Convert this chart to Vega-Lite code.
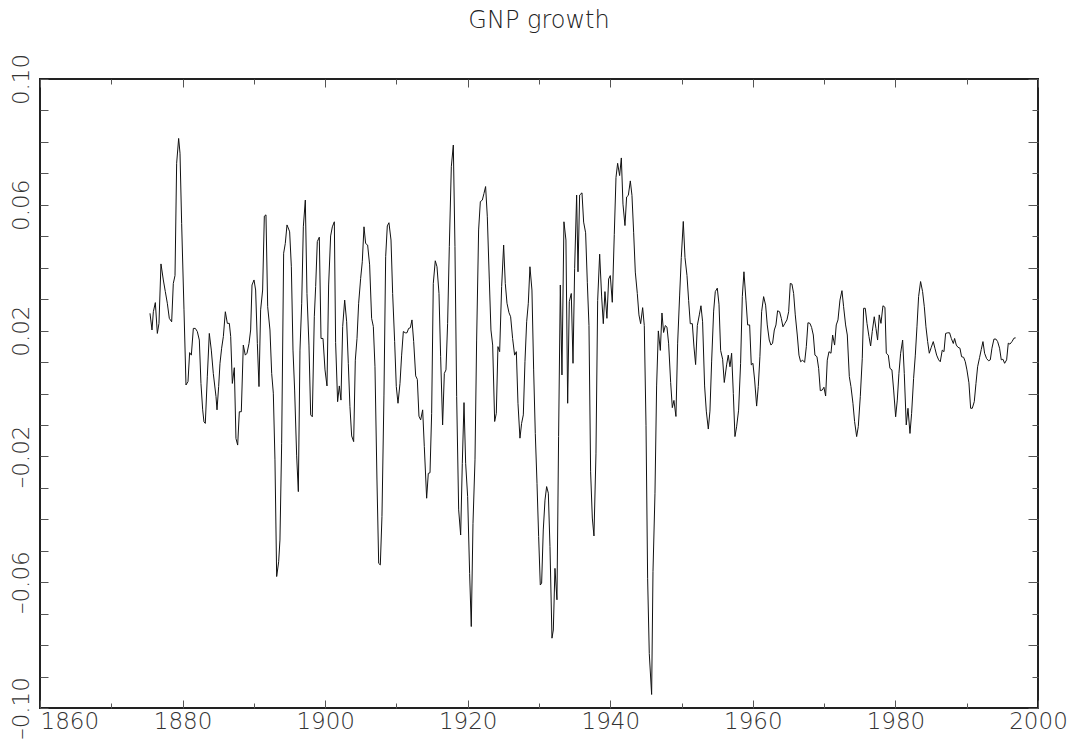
{
 "$schema": "https://vega.github.io/schema/vega-lite/v6.json",
 "width": 998, "height": 629,
 "autosize": {"type": "none"},
 "padding": {"left": 40, "top": 79, "right": 38, "bottom": 39},
 "background": "white",
 "title": {"text": "GNP growth", "fontSize": 24, "font": "DejaVu Sans", "fontWeight": 200, "color": "#222", "anchor": "middle", "offset": 1, "baseline": "alphabetic"},
 "data": {"values": [
{"t":1875.43,"g":0.0255},{"t":1875.71,"g":0.0202},{"t":1875.90,"g":0.0260},{"t":1876.18,"g":0.0289},{"t":1876.46,"g":0.0191},{"t":1876.69,"g":0.0223},{"t":1876.97,"g":0.0412},{"t":1877.30,"g":0.0361},{"t":1877.58,"g":0.0324},{"t":1877.86,"g":0.0287},{"t":1878.14,"g":0.0239},{"t":1878.47,"g":0.0228},{"t":1878.70,"g":0.0350},{"t":1878.94,"g":0.0375},{"t":1879.17,"g":0.0732},{"t":1879.45,"g":0.0811},{"t":1879.64,"g":0.0764},{"t":1879.87,"g":0.0541},{"t":1880.20,"g":0.0266},{"t":1880.48,"g":0.0027},{"t":1880.76,"g":0.0038},{"t":1880.99,"g":0.0130},{"t":1881.23,"g":0.0122},{"t":1881.51,"g":0.0207},{"t":1881.79,"g":0.0207},{"t":1882.07,"g":0.0197},{"t":1882.35,"g":0.0170},{"t":1882.58,"g":0.0032},{"t":1882.82,"g":-0.0052},{"t":1883.00,"g":-0.0090},{"t":1883.19,"g":-0.0095},{"t":1883.47,"g":0.0053},{"t":1883.75,"g":0.0191},{"t":1884.03,"g":0.0138},{"t":1884.31,"g":0.0064},{"t":1884.69,"g":-0.0010},{"t":1884.83,"g":-0.0052},{"t":1885.06,"g":0.0022},{"t":1885.25,"g":0.0096},{"t":1885.48,"g":0.0144},{"t":1885.72,"g":0.0181},{"t":1886.00,"g":0.0260},{"t":1886.28,"g":0.0223},{"t":1886.56,"g":0.0223},{"t":1886.75,"g":0.0181},{"t":1886.98,"g":0.0032},{"t":1887.26,"g":0.0082},{"t":1887.49,"g":-0.0143},{"t":1887.73,"g":-0.0164},{"t":1887.96,"g":-0.0058},{"t":1888.24,"g":-0.0058},{"t":1888.52,"g":0.0154},{"t":1888.80,"g":0.0122},{"t":1889.04,"g":0.0128},{"t":1889.32,"g":0.0159},{"t":1889.55,"g":0.0202},{"t":1889.74,"g":0.0345},{"t":1890.02,"g":0.0361},{"t":1890.25,"g":0.0329},{"t":1890.49,"g":0.0159},{"t":1890.72,"g":0.0022},{"t":1890.95,"g":0.0266},{"t":1891.23,"g":0.0329},{"t":1891.47,"g":0.0564},{"t":1891.70,"g":0.0568},{"t":1891.94,"g":0.0276},{"t":1892.26,"g":0.0202},{"t":1892.50,"g":0.0064},{"t":1892.73,"g":0.0001},{"t":1892.96,"g":-0.0211},{"t":1893.20,"g":-0.0582},{"t":1893.48,"g":-0.0535},{"t":1893.66,"g":-0.0466},{"t":1893.90,"g":-0.0158},{"t":1894.18,"g":0.0446},{"t":1894.41,"g":0.0477},{"t":1894.65,"g":0.0536},{"t":1894.93,"g":0.0520},
{"t":1895.02,"g":0.0514},{"t":1895.26,"g":0.0403},{"t":1895.49,"g":0.0138},{"t":1895.72,"g":0.0011},{"t":1896.00,"g":-0.0196},{"t":1896.24,"g":-0.0312},{"t":1896.47,"g":0.0138},{"t":1896.71,"g":0.0287},{"t":1896.94,"g":0.0530},{"t":1897.22,"g":0.0615},{"t":1897.45,"g":0.0318},{"t":1897.73,"g":0.0154},{"t":1897.97,"g":-0.0068},{"t":1898.20,"g":-0.0074},{"t":1898.48,"g":0.0244},{"t":1898.67,"g":0.0340},{"t":1898.90,"g":0.0483},{"t":1899.18,"g":0.0497},{"t":1899.42,"g":0.0175},{"t":1899.70,"g":0.0175},{"t":1899.98,"g":0.0075},{"t":1900.26,"g":0.0024},{"t":1900.49,"g":0.0345},{"t":1900.77,"g":0.0501},{"t":1901.01,"g":0.0530},{"t":1901.29,"g":0.0546},{"t":1901.47,"g":0.0162},{"t":1901.75,"g":-0.0026},{"t":1901.99,"g":0.0024},{"t":1902.22,"g":-0.0021},{"t":1902.46,"g":0.0213},{"t":1902.74,"g":0.0297},{"t":1903.02,"g":0.0228},{"t":1903.25,"g":0.0096},{"t":1903.48,"g":-0.0042},{"t":1903.72,"g":-0.0135},{"t":1904.00,"g":-0.0153},{"t":1904.23,"g":0.0106},{"t":1904.47,"g":0.0175},{"t":1904.70,"g":0.0287},{"t":1904.98,"g":0.0366},{"t":1905.21,"g":0.0419},{"t":1905.45,"g":0.0530},{"t":1905.68,"g":0.0477},{"t":1905.96,"g":0.0472},{"t":1906.24,"g":0.0409},{"t":1906.52,"g":0.0239},{"t":1906.76,"g":0.0213},{"t":1906.99,"g":0.0085},{"t":1907.27,"g":-0.0275},{"t":1907.51,"g":-0.0540},{"t":1907.74,"g":-0.0545},{"t":1907.97,"g":-0.0391},{"t":1908.25,"g":-0.0005},{"t":1908.49,"g":0.0435},{"t":1908.72,"g":0.0533},{"t":1908.95,"g":0.0543},{"t":1909.24,"g":0.0488},{"t":1909.47,"g":0.0318},{"t":1909.75,"g":0.0165},{"t":1909.98,"g":0.0022},{"t":1910.22,"g":-0.0031},{"t":1910.50,"g":0.0032},{"t":1910.73,"g":0.0122},{"t":1910.97,"g":0.0197},{"t":1911.25,"g":0.0193},{"t":1911.48,"g":0.0193},{"t":1911.71,"g":0.0207},{"t":1911.95,"g":0.0209},{"t":1912.18,"g":0.0234},{"t":1912.42,"g":0.0165},{"t":1912.70,"g":0.0056},{"t":1912.93,"g":0.0045},{"t":1913.16,"g":-0.0072},{"t":1913.40,"g":-0.0084},{"t":1913.68,"g":-0.0052},{"t":1913.91,"g":-0.0169},{"t":1914.24,"g":-0.0333},{"t":1914.47,"g":-0.0254},{"t":1914.71,"g":-0.0252},{"t":1914.94,"g":-0.0063},{"t":1915.17,"g":0.0350},
{"t":1915.45,"g":0.0422},{"t":1915.69,"g":0.0403},{"t":1915.97,"g":0.0318},{"t":1916.20,"g":0.0117},{"t":1916.48,"g":-0.0100},{"t":1916.72,"g":0.0064},{"t":1916.95,"g":0.0075},{"t":1917.18,"g":0.0223},{"t":1917.42,"g":0.0467},{"t":1917.70,"g":0.0721},{"t":1917.98,"g":0.0790},{"t":1918.21,"g":0.0467},{"t":1918.45,"g":-0.0010},{"t":1918.73,"g":-0.0370},{"t":1919.01,"g":-0.0450},{"t":1919.24,"g":-0.0222},{"t":1919.48,"g":-0.0029},{"t":1919.71,"g":-0.0222},{"t":1919.99,"g":-0.0328},{"t":1920.27,"g":-0.0572},{"t":1920.50,"g":-0.0741},{"t":1920.74,"g":-0.0413},{"t":1921.02,"g":-0.0211},{"t":1921.25,"g":0.0170},{"t":1921.53,"g":0.0520},{"t":1921.77,"g":0.0610},{"t":1922.05,"g":0.0615},{"t":1922.28,"g":0.0636},{"t":1922.51,"g":0.0658},{"t":1922.75,"g":0.0562},{"t":1923.03,"g":0.0361},{"t":1923.26,"g":0.0202},{"t":1923.50,"g":0.0154},{"t":1923.78,"g":-0.0089},{"t":1924.01,"g":-0.0063},{"t":1924.24,"g":0.0149},{"t":1924.48,"g":0.0133},{"t":1924.76,"g":0.0340},{"t":1925.04,"g":0.0472},{"t":1925.27,"g":0.0350},{"t":1925.51,"g":0.0287},{"t":1925.79,"g":0.0257},{"t":1926.02,"g":0.0244},{"t":1926.30,"g":0.0175},{"t":1926.58,"g":0.0122},{"t":1926.82,"g":0.0133},{"t":1927.05,"g":-0.0031},{"t":1927.33,"g":-0.0142},{"t":1927.56,"g":-0.0095},{"t":1927.80,"g":-0.0068},{"t":1928.03,"g":0.0101},{"t":1928.27,"g":0.0228},{"t":1928.50,"g":0.0287},{"t":1928.73,"g":0.0403},{"t":1929.01,"g":0.0329},{"t":1929.25,"g":0.0075},{"t":1929.48,"g":-0.0127},{"t":1929.72,"g":-0.0286},{"t":1929.95,"g":-0.0455},{"t":1930.18,"g":-0.0609},{"t":1930.37,"g":-0.0603},{"t":1930.60,"g":-0.0434},{"t":1930.84,"g":-0.0339},{"t":1931.07,"g":-0.0296},{"t":1931.31,"g":-0.0317},{"t":1931.54,"g":-0.0487},{"t":1931.82,"g":-0.0778},{"t":1932.01,"g":-0.0752},{"t":1932.24,"g":-0.0556},{"t":1932.52,"g":-0.0656},{"t":1932.75,"g":-0.0137},{"t":1932.99,"g":0.0345},{"t":1933.22,"g":0.0059},{"t":1933.50,"g":0.0546},{"t":1933.78,"g":0.0488},{"t":1934.02,"g":-0.0031},{"t":1934.25,"g":0.0292},{"t":1934.53,"g":0.0318},{"t":1934.77,"g":0.0096},{"t":1935.00,"g":0.0398},{"t":1935.28,"g":0.0631},{"t":1935.47,"g":0.0387},{"t":1935.70,"g":0.0631},
{"t":1936.03,"g":0.0638},{"t":1936.26,"g":0.0545},{"t":1936.54,"g":0.0511},{"t":1936.78,"g":0.0352},{"t":1937.01,"g":0.0216},{"t":1937.24,"g":-0.0249},{"t":1937.48,"g":-0.0396},{"t":1937.71,"g":-0.0453},{"t":1937.99,"g":-0.0192},{"t":1938.23,"g":0.0296},{"t":1938.51,"g":0.0443},{"t":1938.79,"g":0.0307},{"t":1939.02,"g":0.0222},{"t":1939.25,"g":0.0324},{"t":1939.53,"g":0.0239},{"t":1939.77,"g":0.0364},{"t":1940.00,"g":0.0375},{"t":1940.28,"g":0.0290},{"t":1940.56,"g":0.0505},{"t":1940.80,"g":0.0687},{"t":1941.03,"g":0.0732},{"t":1941.31,"g":0.0693},{"t":1941.55,"g":0.0749},{"t":1941.78,"g":0.0602},{"t":1942.06,"g":0.0534},{"t":1942.29,"g":0.0625},{"t":1942.53,"g":0.0630},{"t":1942.81,"g":0.0676},{"t":1943.04,"g":0.0630},{"t":1943.28,"g":0.0511},{"t":1943.51,"g":0.0386},{"t":1943.79,"g":0.0318},{"t":1944.02,"g":0.0250},{"t":1944.26,"g":0.0222},{"t":1944.54,"g":0.0273},{"t":1944.77,"g":0.0216},{"t":1945.01,"g":-0.0101},{"t":1945.24,"g":-0.0589},{"t":1945.47,"g":-0.0827},{"t":1945.80,"g":-0.0957},{"t":1945.99,"g":-0.0566},{"t":1946.27,"g":-0.0317},{"t":1946.50,"g":0.0024},{"t":1946.74,"g":0.0199},{"t":1947.02,"g":0.0137},{"t":1947.25,"g":0.0256},{"t":1947.48,"g":0.0194},{"t":1947.72,"g":0.0216},{"t":1947.95,"g":0.0211},{"t":1948.18,"g":0.0160},{"t":1948.47,"g":0.0035},{"t":1948.70,"g":-0.0045},{"t":1948.93,"g":-0.0022},{"t":1949.21,"g":-0.0073},{"t":1949.45,"g":0.0160},{"t":1949.73,"g":0.0313},{"t":1949.96,"g":0.0432},{"t":1950.24,"g":0.0547},{"t":1950.48,"g":0.0432},{"t":1950.76,"g":0.0375},{"t":1950.99,"g":0.0296},{"t":1951.22,"g":0.0222},{"t":1951.51,"g":0.0222},{"t":1951.74,"g":0.0148},{"t":1951.97,"g":0.0092},{"t":1952.21,"g":0.0216},{"t":1952.49,"g":0.0250},{"t":1952.72,"g":0.0279},{"t":1952.95,"g":0.0228},{"t":1953.23,"g":0.0024},{"t":1953.47,"g":-0.0056},{"t":1953.75,"g":-0.0113},{"t":1953.98,"g":-0.0056},{"t":1954.22,"g":0.0103},{"t":1954.50,"g":0.0262},{"t":1954.73,"g":0.0324},{"t":1955.01,"g":0.0335},{"t":1955.25,"g":0.0284},{"t":1955.48,"g":0.0137},{"t":1955.76,"g":0.0109},{"t":1955.99,"g":0.0035},
{"t":1956.32,"g":0.0091},{"t":1956.55,"g":0.0122},{"t":1956.79,"g":0.0085},{"t":1957.02,"g":0.0128},{"t":1957.26,"g":0.0000},{"t":1957.49,"g":-0.0137},{"t":1957.72,"g":-0.0106},{"t":1958.00,"g":-0.0053},{"t":1958.28,"g":0.0096},{"t":1958.52,"g":0.0308},{"t":1958.75,"g":0.0387},{"t":1959.03,"g":0.0297},{"t":1959.27,"g":0.0218},{"t":1959.55,"g":0.0218},{"t":1959.78,"g":0.0091},{"t":1960.01,"g":0.0096},{"t":1960.25,"g":0.0043},{"t":1960.53,"g":-0.0040},{"t":1960.76,"g":0.0022},{"t":1960.99,"g":0.0117},{"t":1961.23,"g":0.0260},{"t":1961.51,"g":0.0308},{"t":1961.79,"g":0.0281},{"t":1962.02,"g":0.0218},{"t":1962.30,"g":0.0170},{"t":1962.54,"g":0.0154},{"t":1962.77,"g":0.0160},{"t":1963.01,"g":0.0202},{"t":1963.24,"g":0.0218},{"t":1963.47,"g":0.0263},{"t":1963.75,"g":0.0260},{"t":1963.99,"g":0.0239},{"t":1964.22,"g":0.0212},{"t":1964.50,"g":0.0223},{"t":1964.78,"g":0.0234},{"t":1965.02,"g":0.0260},{"t":1965.25,"g":0.0350},{"t":1965.48,"g":0.0348},{"t":1965.72,"g":0.0318},{"t":1965.95,"g":0.0250},{"t":1966.23,"g":0.0186},{"t":1966.47,"g":0.0122},{"t":1966.70,"g":0.0101},{"t":1966.98,"g":0.0106},{"t":1967.26,"g":0.0099},{"t":1967.50,"g":0.0149},{"t":1967.73,"g":0.0225},{"t":1968.01,"g":0.0223},{"t":1968.24,"g":0.0210},{"t":1968.48,"g":0.0186},{"t":1968.71,"g":0.0122},{"t":1968.99,"g":0.0117},{"t":1969.23,"g":0.0080},{"t":1969.46,"g":0.0009},{"t":1969.74,"g":0.0011},{"t":1969.97,"g":0.0020},{"t":1970.21,"g":-0.0008},{"t":1970.44,"g":0.0106},{"t":1970.68,"g":0.0133},{"t":1970.96,"g":0.0128},{"t":1971.19,"g":0.0186},{"t":1971.47,"g":0.0154},{"t":1971.70,"g":0.0218},{"t":1971.94,"g":0.0234},{"t":1972.22,"g":0.0297},{"t":1972.50,"g":0.0327},{"t":1972.73,"g":0.0276},{"t":1973.01,"g":0.0218},{"t":1973.25,"g":0.0186},{"t":1973.53,"g":0.0054},{"t":1973.76,"g":0.0022},{"t":1974.04,"g":-0.0031},{"t":1974.27,"g":-0.0089},{"t":1974.56,"g":-0.0137},{"t":1974.79,"g":-0.0105},{"t":1975.07,"g":-0.0010},{"t":1975.35,"g":0.0112},{"t":1975.54,"g":0.0271},{"t":1975.77,"g":0.0271},{"t":1976.01,"g":0.0223},{"t":1976.29,"g":0.0181},
{"t":1976.52,"g":0.0151},{"t":1976.75,"g":0.0197},{"t":1977.03,"g":0.0244},{"t":1977.27,"g":0.0207},{"t":1977.50,"g":0.0170},{"t":1977.73,"g":0.0250},{"t":1977.97,"g":0.0223},{"t":1978.25,"g":0.0279},{"t":1978.53,"g":0.0274},{"t":1978.72,"g":0.0128},{"t":1979.00,"g":0.0122},{"t":1979.23,"g":0.0080},{"t":1979.51,"g":0.0075},{"t":1979.75,"g":0.0011},{"t":1980.03,"g":-0.0074},{"t":1980.26,"g":-0.0021},{"t":1980.49,"g":0.0064},{"t":1980.73,"g":0.0128},{"t":1981.01,"g":0.0170},{"t":1981.24,"g":0.0064},{"t":1981.52,"g":-0.0100},{"t":1981.76,"g":-0.0047},{"t":1982.04,"g":-0.0127},{"t":1982.27,"g":-0.0063},{"t":1982.55,"g":0.0048},{"t":1982.79,"g":0.0122},{"t":1983.02,"g":0.0212},{"t":1983.25,"g":0.0308},{"t":1983.53,"g":0.0356},{"t":1983.81,"g":0.0324},{"t":1984.05,"g":0.0276},{"t":1984.28,"g":0.0212},{"t":1984.52,"g":0.0165},{"t":1984.75,"g":0.0128},{"t":1985.03,"g":0.0147},{"t":1985.31,"g":0.0165},{"t":1985.54,"g":0.0144},{"t":1985.78,"g":0.0122},{"t":1986.06,"g":0.0107},{"t":1986.29,"g":0.0101},{"t":1986.57,"g":0.0138},{"t":1986.81,"g":0.0133},{"t":1987.04,"g":0.0191},{"t":1987.32,"g":0.0193},{"t":1987.60,"g":0.0193},{"t":1987.84,"g":0.0175},{"t":1988.12,"g":0.0159},{"t":1988.30,"g":0.0175},{"t":1988.54,"g":0.0154},{"t":1988.77,"g":0.0147},{"t":1989.05,"g":0.0144},{"t":1989.28,"g":0.0117},{"t":1989.57,"g":0.0115},{"t":1989.80,"g":0.0101},{"t":1990.03,"g":0.0075},{"t":1990.31,"g":0.0034},{"t":1990.55,"g":-0.0047},{"t":1990.78,"g":-0.0047},{"t":1991.06,"g":-0.0026},{"t":1991.30,"g":0.0032},{"t":1991.53,"g":0.0085},{"t":1991.81,"g":0.0115},{"t":1992.04,"g":0.0140},{"t":1992.28,"g":0.0165},{"t":1992.51,"g":0.0128},{"t":1992.79,"g":0.0111},{"t":1993.07,"g":0.0104},{"t":1993.31,"g":0.0107},{"t":1993.54,"g":0.0144},{"t":1993.82,"g":0.0173},{"t":1994.10,"g":0.0173},{"t":1994.34,"g":0.0165},{"t":1994.61,"g":0.0144},{"t":1994.85,"g":0.0107},{"t":1995.08,"g":0.0109},{"t":1995.32,"g":0.0096},{"t":1995.60,"g":0.0107},{"t":1995.83,"g":0.0160},{"t":1996.06,"g":0.0157},{"t":1996.35,"g":0.0165},{"t":1996.63,"g":0.0176},{"t":1996.86,"g":0.0177}
 ]},
 "layer": [
  {"mark": {"type": "line", "color": "#111", "strokeWidth": 1},
   "encoding": {
    "x": {"field": "t", "type": "quantitative",
          "scale": {"domain": [1860, 2000], "nice": false, "zero": false},
          "axis": {"orient": "bottom", "title": null, "domain": false, "grid": false,
                   "values": [1860,1870,1880,1890,1900,1910,1920,1930,1940,1950,1960,1970,1980,1990,2000],
                   "format": "d",
                   "labelExpr": "datum.value % 20 === 0 ? datum.label : ''",
                   "tickSize": {"condition": {"test": "datum.value % 20 === 0", "value": -8}, "value": -5},
                   "tickColor": "#555", "tickWidth": 1,
                   "labelFont": "DejaVu Sans", "labelFontSize": 23, "labelFontWeight": 200, "labelColor": "#333",
                   "labelPadding": 10, "labelOverlap": false, "labelFlush": false, "labelBound": false,
                   "labelAlign": {"condition": {"test": "datum.value === 1860", "value": "left"}, "value": "center"},
                   "labelBaseline": "top"}},
    "y": {"field": "g", "type": "quantitative",
          "scale": {"domain": [-0.1, 0.1], "nice": false, "zero": false},
          "axis": {"orient": "left", "title": null, "domain": false, "grid": false,
                   "values": [-0.1,-0.09,-0.08,-0.07,-0.06,-0.05,-0.04,-0.03,-0.02,-0.01,0,0.01,0.02,0.03,0.04,0.05,0.06,0.07,0.08,0.09,0.1],
                   "labelExpr": "(round(datum.value*100)+10) % 4 == 0 ? replace(format(datum.value, '.2f'), '\u2212', '\u2013') : ''",
                   "tickSize": -8, "tickColor": "#555", "tickWidth": 1,
                   "labelAngle": -90, "labelAlign": "center", "labelBaseline": "alphabetic",
                   "labelFont": "DejaVu Sans", "labelFontSize": 23, "labelFontWeight": 200, "labelColor": "#333",
                   "labelPadding": 20, "labelOverlap": false, "labelFlush": false, "labelBound": false}}
   }},
  {"mark": {"type": "line", "strokeOpacity": 0},
   "encoding": {
    "x": {"field": "t", "type": "quantitative",
          "axis": {"orient": "top", "title": null, "domain": false, "grid": false, "labels": false,
                   "values": [1860,1870,1880,1890,1900,1910,1920,1930,1940,1950,1960,1970,1980,1990,2000],
                   "tickSize": {"condition": {"test": "datum.value % 20 === 0", "value": -8}, "value": -5},
                   "tickColor": "#555", "tickWidth": 1}},
    "y": {"field": "g", "type": "quantitative",
          "axis": {"orient": "right", "title": null, "domain": false, "grid": false, "labels": false,
                   "values": [-0.1,-0.09,-0.08,-0.07,-0.06,-0.05,-0.04,-0.03,-0.02,-0.01,0,0.01,0.02,0.03,0.04,0.05,0.06,0.07,0.08,0.09,0.1],
                   "tickSize": {"condition": {"test": "abs(round(datum.value*100)) % 2 == 0", "value": -10}, "value": -6},
                   "tickColor": "#555", "tickWidth": 1}}
   }}
 ],
 "config": {"view": {"stroke": "#222", "strokeWidth": 2}}
}
